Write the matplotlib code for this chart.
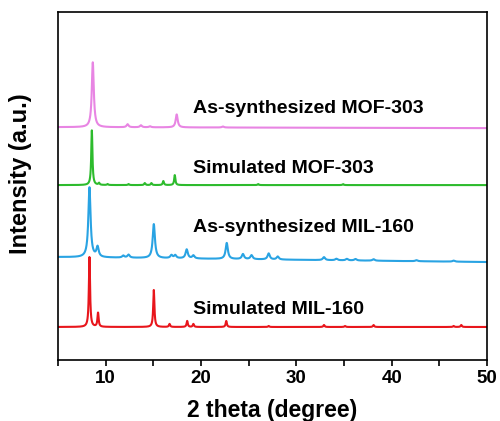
import numpy as np
import matplotlib.pyplot as plt
from matplotlib.ticker import MultipleLocator

plt.rcParams["font.family"] = ["Liberation Sans", "DejaVu Sans"]
plt.rcParams["font.weight"] = "bold"

# peak lists: position (2 theta), height, FWHM
sim_mil_pos = [8.3, 9.2, 15.05, 16.7, 18.55, 19.2, 22.65, 27.1, 32.9, 35.1, 38.1, 46.5, 47.3]
sim_mil_hgt = [70, 14, 37, 3, 6, 3, 6, 1, 2, 1, 2, 1, 2]
sim_mil_fwhm = 0.15

as_mil_pos = [8.3, 9.15, 11.85, 12.4, 15.05, 16.9, 17.3, 18.5, 19.2, 22.7, 24.4, 25.3,
              27.1, 28.05, 32.9, 34.2, 35.3, 36.2, 38.1, 42.6, 46.5]
as_mil_hgt = [70, 10, 2, 3, 34, 3, 3, 9, 3, 16, 5, 4, 6, 3, 3, 1.5, 1.5, 1.5, 1.5, 1, 1]
as_mil_fwhm = 0.28

sim_mof_pos = [8.55, 9.3, 10.2, 12.4, 14.1, 14.8, 16.05, 17.25, 26.0, 34.9]
sim_mof_hgt = [55, 2, 1, 1, 2, 2, 4, 10, 1, 1]
sim_mof_fwhm = 0.15

as_mof_pos = [8.65, 12.3, 13.7, 14.65, 17.45, 22.3]
as_mof_hgt = [65, 3, 2, 1, 13, 1]
as_mof_fwhm = 0.25

# baseline offsets (left end, right end)
offsets = {
    "Simulated MIL-160": (33, 33),
    "As-synthesized MIL-160": (103, 98),
    "Simulated MOF-303": (175, 175),
    "As-synthesized MOF-303": (233, 232),
}
colors = {
    "Simulated MIL-160": "#e8161c",
    "As-synthesized MIL-160": "#29a3e3",
    "Simulated MOF-303": "#2dbb2d",
    "As-synthesized MOF-303": "#e885e3",
}
label_y = {
    "Simulated MIL-160": 50,
    "As-synthesized MIL-160": 133,
    "Simulated MOF-303": 192,
    "As-synthesized MOF-303": 252,
}


def pattern(x, pos, hgt, fwhm):
    y = np.zeros_like(x)
    g = fwhm / 2
    for p, h in zip(pos, hgt):
        y += h * g**2 / ((x - p) ** 2 + g**2)
    return y


x = np.linspace(5, 50, 4000)
series = {
    "Simulated MIL-160": (sim_mil_pos, sim_mil_hgt, sim_mil_fwhm),
    "As-synthesized MIL-160": (as_mil_pos, as_mil_hgt, as_mil_fwhm),
    "Simulated MOF-303": (sim_mof_pos, sim_mof_hgt, sim_mof_fwhm),
    "As-synthesized MOF-303": (as_mof_pos, as_mof_hgt, as_mof_fwhm),
}

fig = plt.figure(figsize=(5.0, 4.21), dpi=100)
ax = fig.add_axes([0.116, 0.145, 0.858, 0.826])

for name, (pos, hgt, fwhm) in series.items():
    b0, b1 = offsets[name]
    base = b0 + (b1 - b0) * (x - 5) / 45
    ax.plot(x, base + pattern(x, pos, hgt, fwhm), color=colors[name], lw=1.5)
    ax.text(19.2, label_y[name], name, fontsize=14, fontweight="bold",
            va="center", ha="left")

ax.set_xlim(5, 50)
ax.set_ylim(0, 348)
ax.set_yticks([])
ax.xaxis.set_major_locator(MultipleLocator(10))
ax.xaxis.set_minor_locator(MultipleLocator(5))
ax.tick_params(axis="x", which="both", direction="out", length=4, width=1.2,
               labelsize=13.5, pad=3.5)
for lbl in ax.get_xticklabels():
    lbl.set_fontweight("bold")
for s in ax.spines.values():
    s.set_linewidth(1.2)
ax.set_xlabel("2 theta (degree)", fontsize=16.5, fontweight="bold")
ax.xaxis.set_label_coords(0.5, -0.112)
ax.set_ylabel("Intensity (a.u.)", fontsize=17, fontweight="bold")
ax.yaxis.set_label_coords(-0.061, 0.537)

fig.savefig("out.png", dpi=100)
